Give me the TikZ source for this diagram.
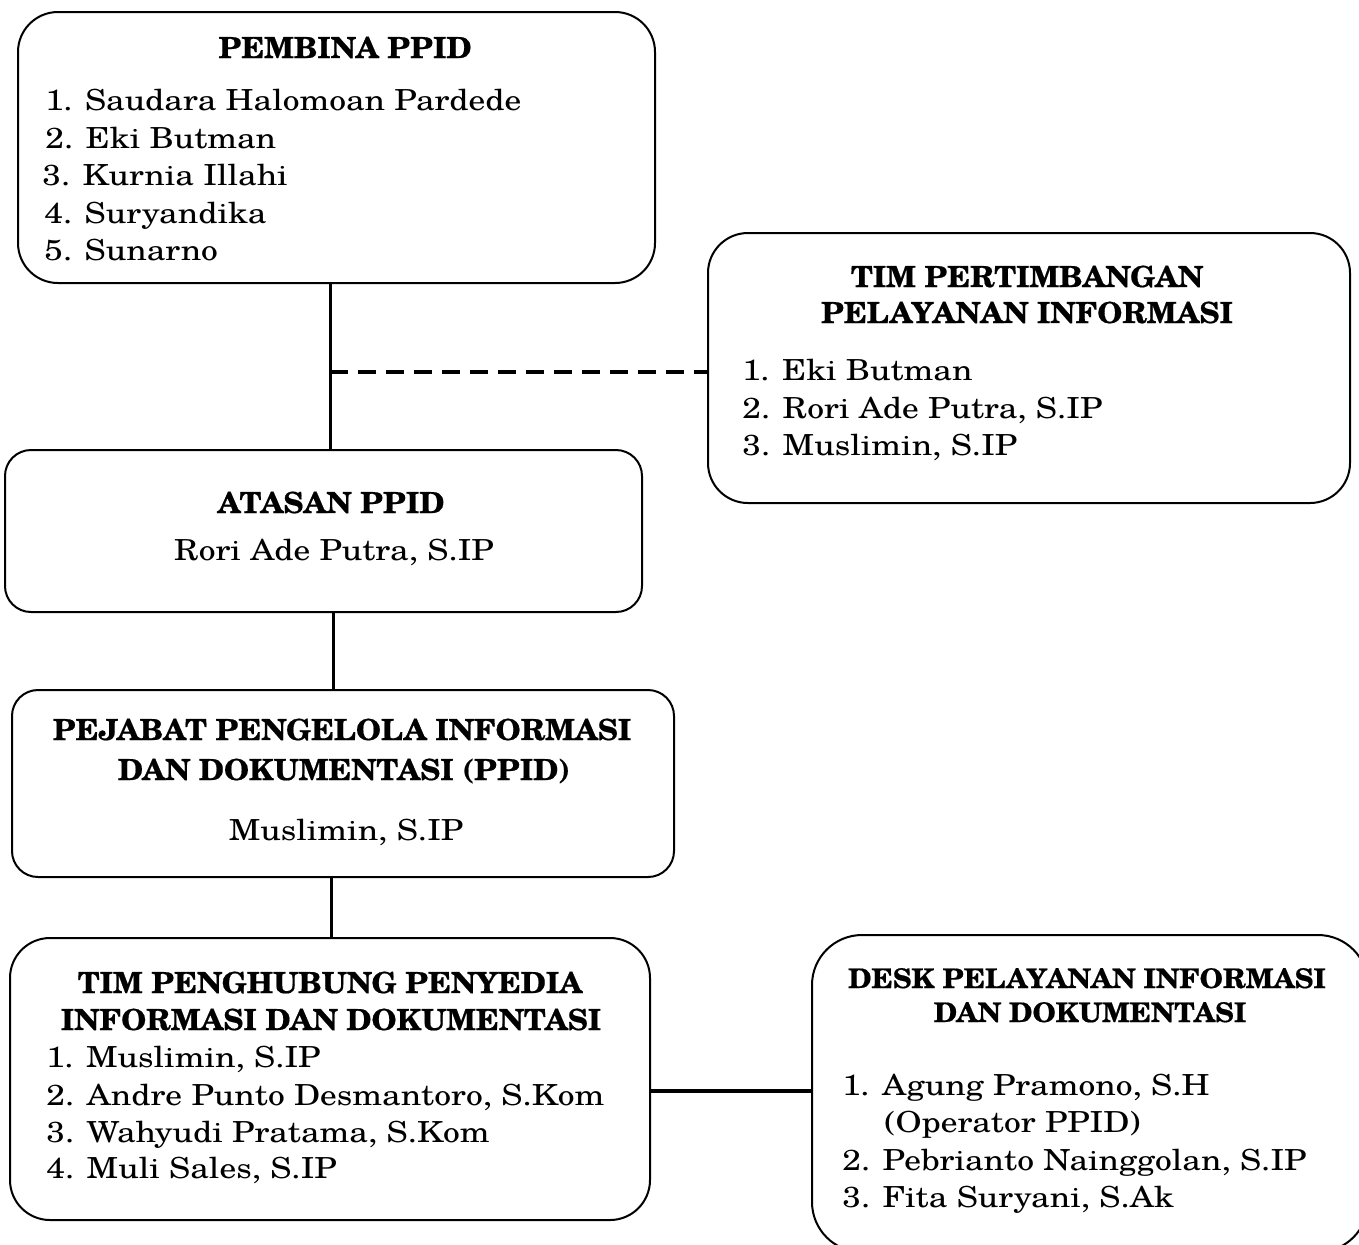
\documentclass[tikz,border=0pt]{standalone}
\usepackage{fontspec}
\setmainfont{texgyreschola}[Extension=.otf, UprightFont=*-regular, BoldFont=*-bold, ItalicFont=*-italic, BoldItalicFont=*-bolditalic, FakeStretch=1.155]
\newfontfamily\ttlfont{texgyreschola-bold.otf}[FakeStretch=1.04, FakeBold=0.6]
\begin{document}
\begin{tikzpicture}[x=0.5pt,y=-0.5pt,
  orgbox/.style={draw, line width=1pt, inner sep=0pt},
  txt/.style={inner sep=0pt, anchor=base west, font=\fontsize{14.5}{18.5}\selectfont},
  ctxt/.style={inner sep=0pt, anchor=base, font=\fontsize{14.5}{18.5}\selectfont},
  ttl/.style={inner sep=0pt, anchor=base, font=\fontsize{14.5}{18.5}\selectfont\ttlfont},
  sttl/.style={inner sep=0pt, anchor=base, font=\fontsize{13.5}{16}\selectfont\ttlfont},
  conn/.style={line width=1.5pt},
  dconn/.style={line width=1.6pt, dash pattern=on 9pt off 5pt}]
\useasboundingbox (0,0) rectangle (1359,1244);
\fill[white] (0,0) rectangle (1359,1244);
\clip (0,0) rectangle (1359,1244);

% boxes
\node[orgbox, rounded corners=20pt, minimum width=318.5pt, minimum height=135.5pt] (b1) at (336.5,147.5) {};
\node[orgbox, rounded corners=20pt, minimum width=321pt, minimum height=135pt] (b2) at (1029,368) {};
\node[orgbox, rounded corners=13pt, minimum width=318.5pt, minimum height=81pt] (b3) at (323.5,531) {};
\node[orgbox, rounded corners=13pt, minimum width=331pt, minimum height=93.5pt] (b4) at (343,783.5) {};
\node[orgbox, rounded corners=20pt, minimum width=320pt, minimum height=141pt] (b5) at (330,1079) {};
\node[orgbox, rounded corners=25pt, minimum width=278pt, minimum height=158.5pt] (b6) at (1090,1093.5) {};

% box 1
\node[ttl] (t1) at (345,58) {PEMBINA PPID};
\node[txt] (l11) at (45,110) {1. Saudara Halomoan Pardede};
\node[txt] (l12) at (45,148) {2. Eki Butman};
\node[txt] (l13) at (42,185) {3. Kurnia Illahi};
\node[txt] (l14) at (44,223) {4. Suryandika};
\node[txt] (l15) at (44,260) {5. Sunarno};

% box 2
\node[ttl] (t2a) at (1027,287) {TIM PERTIMBANGAN};
\node[ttl] (t2b) at (1027,323) {PELAYANAN INFORMASI};
\node[txt] (l21) at (742,380) {1. Eki Butman};
\node[txt] (l22) at (742,418) {2. Rori Ade Putra, S.IP};
\node[txt] (l23) at (742,455) {3. Muslimin, S.IP};

% box 3
\node[ttl] (t3) at (331,513) {ATASAN PPID};
\node[ctxt] (l31) at (334,560) {Rori Ade Putra, S.IP};

% box 4
\node[ttl] (t4a) at (342,740) {PEJABAT PENGELOLA INFORMASI};
\node[ttl] (t4b) at (344,780) {DAN DOKUMENTASI (PPID)};
\node[ctxt] (l41) at (346,840) {Muslimin, S.IP};

% box 5
\node[ttl] (t5a) at (330,993) {TIM PENGHUBUNG PENYEDIA};
\node[ttl] (t5b) at (331,1030) {INFORMASI DAN DOKUMENTASI};
\node[txt] (l51) at (46,1067) {1. Muslimin, S.IP};
\node[txt] (l52) at (46,1105) {2. Andre Punto Desmantoro, S.Kom};
\node[txt] (l53) at (46,1142) {3. Wahyudi Pratama, S.Kom};
\node[txt] (l54) at (46,1178) {4. Muli Sales, S.IP};

% box 6
\node[sttl] (t6a) at (1087,988) {DESK PELAYANAN INFORMASI};
\node[sttl] (t6b) at (1090,1022) {DAN DOKUMENTASI};
\node[txt] (l61) at (842,1095) {1. Agung Pramono, S.H};
\node[txt] (l61b) at (884,1132) {(Operator PPID)};
\node[txt] (l62) at (842,1170) {2. Pebrianto Nainggolan, S.IP};
\node[txt] (l63) at (842,1207) {3. Fita Suryani, S.Ak};

% connectors
\coordinate (v1) at (330,0);
\coordinate (v2) at (333,0);
\coordinate (v3) at (331,0);
\coordinate (d0) at (330,372);
\coordinate (h0) at (0,1091);
\draw[conn] (b1.south -| v1) -- (b3.north -| v1);
\draw[dconn] (d0) -- (d0 -| b2.west);
\draw[conn] (b3.south -| v2) -- (b4.north -| v2);
\draw[conn] (b4.south -| v3) -- (b5.north -| v3);
\draw[line width=2pt] (b5.east |- h0) -- (b6.west |- h0);
\end{tikzpicture}
\end{document}
